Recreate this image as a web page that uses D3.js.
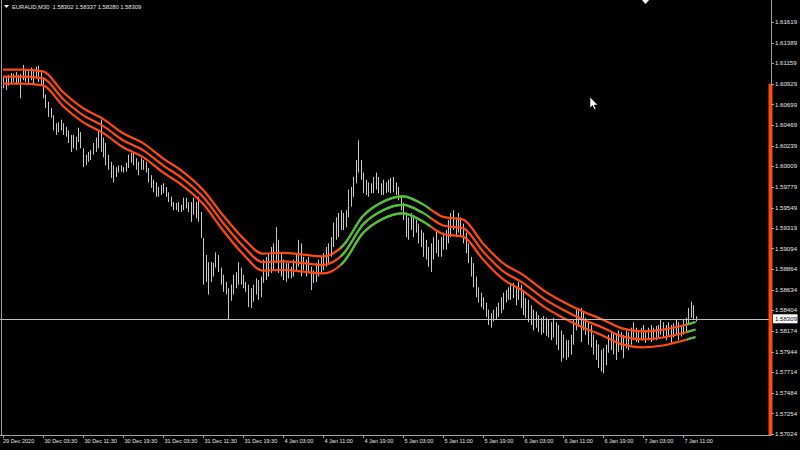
<!DOCTYPE html>
<html><head><meta charset="utf-8">
<script src="https://cdn.jsdelivr.net/npm/d3@7"></script>
<style>html,body{margin:0;padding:0;background:#000;overflow:hidden}</style>
</head><body><svg id="c" width="800" height="450"></svg>
<script>
const symbol = "EURAUD,M30";
const lastOHLC = [1.58302, 1.58337, 1.58280, 1.58309];
const timeLabels = ["29 Dec 2020","30 Dec 03:30","30 Dec 11:30","30 Dec 19:30","31 Dec 03:30","31 Dec 11:30","31 Dec 19:30","4 Jan 03:00","4 Jan 11:00","4 Jan 19:00","5 Jan 03:00","5 Jan 11:00","5 Jan 19:00","6 Jan 03:00","6 Jan 11:00","6 Jan 19:00","7 Jan 03:00","7 Jan 11:00"];
const barsPerLabel = 16;
const priceTicks = [1.61619,1.61389,1.61159,1.60929,1.60699,1.60469,1.60239,1.60009,1.59779,1.59549,1.59319,1.59094,1.58864,1.58634,1.58404,1.58174,1.57944,1.57714,1.57484,1.57254,1.57024];
const highs = [
1.6102,1.6100,1.6103,1.6105,1.6104,1.6106,1.6103,1.6104,1.6114,1.6108,
1.6107,1.6111,1.6108,1.6112,1.6113,1.6106,1.6100,1.6081,1.6073,1.6066,
1.6058,1.6049,1.6050,1.6053,1.6049,1.6045,1.6041,1.6036,1.6036,1.6034,
1.6044,1.6039,1.6021,1.6014,1.6017,1.6019,1.6027,1.6033,1.6041,1.6053,
1.6033,1.6027,1.6014,1.6006,1.6002,1.6000,1.6002,1.6002,1.6000,1.6005,
1.6014,1.6016,1.6016,1.6010,1.6006,1.6010,1.6008,1.6006,1.5999,1.5991,
1.5986,1.5983,1.5978,1.5980,1.5982,1.5978,1.5972,1.5967,1.5961,1.5960,
1.5961,1.5958,1.5966,1.5966,1.5961,1.5961,1.5966,1.5961,1.5967,1.5950,
1.5921,1.5902,1.5894,1.5894,1.5893,1.5905,1.5902,1.5888,1.5880,1.5872,
1.5865,1.5869,1.5880,1.5883,1.5894,1.5888,1.5880,1.5872,1.5869,1.5865,
1.5869,1.5876,1.5874,1.5878,1.5897,1.5900,1.5904,1.5911,1.5915,1.5933,
1.5919,1.5904,1.5897,1.5893,1.5893,1.5889,1.5897,1.5904,1.5919,1.5915,
1.5900,1.5897,1.5900,1.5889,1.5885,1.5893,1.5897,1.5900,1.5904,1.5911,
1.5915,1.5922,1.5938,1.5944,1.5949,1.5952,1.5949,1.5952,1.5975,1.5978,
1.5989,1.6008,1.6030,1.6008,1.5994,1.5986,1.5983,1.5982,1.5989,1.5994,
1.5989,1.5982,1.5986,1.5983,1.5986,1.5988,1.5989,1.5983,1.5978,1.5969,
1.5960,1.5949,1.5944,1.5949,1.5944,1.5941,1.5937,1.5930,1.5927,1.5919,
1.5911,1.5915,1.5922,1.5930,1.5919,1.5922,1.5927,1.5930,1.5941,1.5949,
1.5952,1.5944,1.5949,1.5944,1.5937,1.5927,1.5915,1.5900,1.5893,1.5878,
1.5866,1.5860,1.5855,1.5849,1.5841,1.5837,1.5841,1.5844,1.5849,1.5855,
1.5860,1.5863,1.5866,1.5869,1.5871,1.5865,1.5872,1.5869,1.5861,1.5854,
1.5852,1.5846,1.5841,1.5839,1.5835,1.5832,1.5834,1.5832,1.5830,1.5827,
1.5832,1.5827,1.5824,1.5818,1.5813,1.5807,1.5807,1.5813,1.5830,1.5841,
1.5843,1.5843,1.5839,1.5832,1.5827,1.5824,1.5813,1.5807,1.5802,1.5796,
1.5798,1.5802,1.5813,1.5815,1.5816,1.5813,1.5818,1.5816,1.5813,1.5818,
1.5816,1.5821,1.5827,1.5821,1.5818,1.5821,1.5824,1.5818,1.5821,1.5824,
1.5821,1.5823,1.5824,1.5830,1.5827,1.5824,1.5827,1.5824,1.5826,1.5830,
1.5827,1.5824,1.5830,1.5832,1.5843,1.5850,1.5846,1.58337];
const lows = [
1.6088,1.6086,1.6091,1.6093,1.6095,1.6092,1.6093,1.6077,1.6097,1.6095,
1.6093,1.6097,1.6093,1.6100,1.6095,1.6091,1.6077,1.6066,1.6056,1.6055,
1.6041,1.6036,1.6039,1.6041,1.6036,1.6034,1.6027,1.6017,1.6021,1.6019,
1.6028,1.6021,1.6000,1.6002,1.6006,1.6008,1.6014,1.6017,1.6021,1.6017,
1.6011,1.6002,1.5997,1.5988,1.5983,1.5989,1.5994,1.5995,1.5994,1.5995,
1.5999,1.6005,1.6002,1.5997,1.5991,1.5997,1.5997,1.5994,1.5983,1.5977,
1.5972,1.5967,1.5967,1.5969,1.5971,1.5967,1.5961,1.5956,1.5952,1.5952,
1.5950,1.5950,1.5952,1.5954,1.5950,1.5939,1.5947,1.5943,1.5939,1.5921,
1.5869,1.5872,1.5858,1.5872,1.5878,1.5888,1.5883,1.5869,1.5861,1.5858,
1.5830,1.5851,1.5858,1.5865,1.5869,1.5869,1.5865,1.5861,1.5844,1.5843,
1.5850,1.5858,1.5852,1.5855,1.5871,1.5874,1.5878,1.5882,1.5885,1.5893,
1.5882,1.5878,1.5874,1.5872,1.5876,1.5876,1.5878,1.5885,1.5889,1.5878,
1.5885,1.5878,1.5882,1.5863,1.5871,1.5872,1.5878,1.5882,1.5885,1.5889,
1.5893,1.5900,1.5911,1.5919,1.5922,1.5930,1.5930,1.5933,1.5944,1.5956,
1.5967,1.5982,1.5994,1.5986,1.5971,1.5969,1.5967,1.5971,1.5971,1.5975,
1.5971,1.5969,1.5969,1.5971,1.5972,1.5971,1.5972,1.5969,1.5963,1.5952,
1.5941,1.5922,1.5919,1.5930,1.5922,1.5927,1.5915,1.5911,1.5900,1.5897,
1.5889,1.5883,1.5897,1.5904,1.5900,1.5900,1.5908,1.5908,1.5915,1.5922,
1.5930,1.5922,1.5927,1.5922,1.5915,1.5904,1.5893,1.5878,1.5866,1.5855,
1.5849,1.5844,1.5841,1.5833,1.5824,1.5821,1.5828,1.5830,1.5833,1.5837,
1.5841,1.5849,1.5852,1.5852,1.5854,1.5846,1.5852,1.5843,1.5835,1.5832,
1.5827,1.5824,1.5818,1.5821,1.5816,1.5813,1.5815,1.5812,1.5810,1.5807,
1.5810,1.5802,1.5796,1.5783,1.5787,1.5785,1.5788,1.5791,1.5802,1.5818,
1.5822,1.5805,1.5818,1.5813,1.5802,1.5799,1.5791,1.5785,1.5776,1.5772,
1.5770,1.5779,1.5793,1.5796,1.5791,1.5785,1.5794,1.5796,1.5787,1.5798,
1.5796,1.5802,1.5807,1.5805,1.5804,1.5807,1.5807,1.5804,1.5807,1.5805,
1.5807,1.5807,1.5810,1.5813,1.5810,1.5807,1.5811,1.5804,1.5810,1.5813,
1.5807,1.5811,1.5813,1.5816,1.5824,1.5832,1.5830,1.58280];
const bandIdx  = [0,8,16,24,32,40,48,56,64,72,80,88,96,104,112,120,128,136,144,152,160,168,176,184,192,200,208,216,224,232,240,248,256,264,272,277];
const bandMid  = [1.6101,1.6101,1.6099,1.6076,1.6058,1.6046,1.6030,1.6019,1.6002,1.5987,1.5967,1.5938,1.5912,1.5894,1.5895,1.5893,1.5891,1.5903,1.5936,1.5952,1.5958,1.5949,1.5935,1.5932,1.5906,1.5884,1.5871,1.5854,1.5841,1.5830,1.5821,1.5811,1.5808,1.5810,1.5815,1.5819];
const bandHalf = [0.00078,0.00078,0.00078,0.00078,0.00078,0.00078,0.00078,0.00078,0.00078,0.00078,0.00078,0.00084,0.00089,0.00095,0.00095,0.00095,0.00095,0.00095,0.00095,0.00095,0.00095,0.00095,0.00095,0.00095,0.00089,0.00089,0.00089,0.00089,0.00089,0.00089,0.00089,0.00089,0.00089,0.00089,0.00084,0.00084];
const greenRanges = [[135, 171], [273.5, 278]];
const currentPrice = 1.58309;
const markerTopPrice = 1.60929;

const W = 800, H = 450, plotR = 771, plotB = 435;
const svg = d3.select("#c");
svg.append("rect").attr("width", W).attr("height", H).attr("fill", "#000");

const x = d3.scaleLinear().domain([0, highs.length - 1]).range([3, 695.5]);
const y = d3.scaleLinear().domain([1.57024, 1.61619]).range([434, 22]);
const font = "'Liberation Sans', Arial, sans-serif";

const plot = svg.append("g");
// bars
plot.append("g").selectAll("line").data(highs).join("line")
  .attr("x1", (d, i) => Math.round(x(i)) + 0.5)
  .attr("x2", (d, i) => Math.round(x(i)) + 0.5)
  .attr("y1", d => y(d))
  .attr("y2", (d, i) => y(lows[i]))
  .attr("stroke", "#c8c8c8").attr("stroke-width", 1);

// current price line
svg.append("line").attr("x1", 0).attr("x2", plotR).attr("y1", Math.round(y(currentPrice)) + 0.5).attr("y2", Math.round(y(currentPrice)) + 0.5)
  .attr("stroke", "#c0c0c0").attr("stroke-width", 1);

// bands
const defs = svg.append("defs");
const cp = defs.append("clipPath").attr("id", "greenclip");
greenRanges.forEach(r => cp.append("rect").attr("x", x(r[0])).attr("width", x(r[1]) - x(r[0])).attr("y", 0).attr("height", plotB));
const band = bandIdx.map((b, k) => ({ i: b, mid: bandMid[k], up: bandMid[k] + bandHalf[k], lo: bandMid[k] - bandHalf[k] }));
const lines = ["up", "mid", "lo"].map(key => d3.line().x(d => x(d.i)).y(d => y(d[key])).curve(d3.curveMonotoneX)(band));
plot.append("g").selectAll("path").data(lines).join("path").attr("d", d => d)
  .attr("fill", "none").attr("stroke", "#FF4A12").attr("stroke-width", 2.2);
plot.append("g").attr("clip-path", "url(#greenclip)").selectAll("path").data(lines).join("path").attr("d", d => d)
  .attr("fill", "none").attr("stroke", "#3CCB3C").attr("stroke-width", 2.2);

// frame
svg.append("line").attr("x1", plotR + 0.5).attr("x2", plotR + 0.5).attr("y1", 0).attr("y2", plotB + 0.5).attr("stroke", "#a0a0a0");
svg.append("line").attr("x1", 0).attr("x2", plotR + 0.5).attr("y1", plotB + 0.5).attr("y2", plotB + 0.5).attr("stroke", "#a0a0a0");
svg.append("line").attr("x1", 1.5).attr("x2", 1.5).attr("y1", 0).attr("y2", plotB).attr("stroke", "#a0a0a0");

// orange marker bar on price scale
svg.append("rect").attr("x", 768.5).attr("width", 4).attr("y", y(markerTopPrice)).attr("height", plotB - y(markerTopPrice)).attr("fill", "#FF4A12");

// price axis
const pa = svg.append("g");
pa.selectAll("line").data(priceTicks).join("line")
  .attr("x1", plotR).attr("x2", plotR + 3).attr("y1", d => Math.round(y(d)) + 0.5).attr("y2", d => Math.round(y(d)) + 0.5)
  .attr("stroke", "#a0a0a0");
pa.selectAll("text").data(priceTicks).join("text")
  .attr("x", 775).attr("y", d => y(d)).attr("dy", "0.35em")
  .attr("fill", "#e8e8e8").attr("font-family", font).attr("font-size", 6.1)
  .text(d => d.toFixed(5));
// current price label
const cy = y(currentPrice);
svg.append("rect").attr("x", 773).attr("y", cy - 4.5).attr("width", 24.5).attr("height", 9).attr("fill", "#fff");
svg.append("text").attr("x", 775).attr("y", cy).attr("dy", "0.35em").attr("fill", "#000")
  .attr("font-family", font).attr("font-size", 6.1).text(currentPrice.toFixed(5));

// time axis
const ta = svg.append("g");
ta.selectAll("line").data(timeLabels).join("line")
  .attr("x1", (d, k) => Math.round(x(k * barsPerLabel)) + 0.5).attr("x2", (d, k) => Math.round(x(k * barsPerLabel)) + 0.5)
  .attr("y1", plotB).attr("y2", plotB + 3).attr("stroke", "#a0a0a0");
ta.selectAll("text").data(timeLabels).join("text")
  .attr("x", (d, k) => x(k * barsPerLabel) + (k === 0 ? 0 : 1.5)).attr("y", 441).attr("dy", "0.35em")
  .attr("fill", "#e8e8e8").attr("font-family", font).attr("font-size", 5.5)
  .text(d => d);

// title
svg.append("path").attr("d", "M4,5 L9,5 L6.5,8 Z").attr("fill", "#fff");
svg.append("text").attr("x", 12).attr("y", 7).attr("dy", "0.35em").attr("fill", "#e8e8e8")
  .attr("font-family", font).attr("font-size", 5.8).attr("xml:space", "preserve")
  .text(symbol + "  " + lastOHLC.map(v => v.toFixed(5)).join(" "));

// chart shift marker & cursor
svg.append("path").attr("d", "M642,0 L649,0 L645.5,4 Z").attr("fill", "#fff");
svg.append("path").attr("d", "M590,97 L590,108 L592.6,105.6 L594.4,109.6 L596,108.9 L594.3,105 L597.8,105 Z")
  .attr("fill", "#fff").attr("stroke", "#000").attr("stroke-width", 0.6);
</script></body></html>
